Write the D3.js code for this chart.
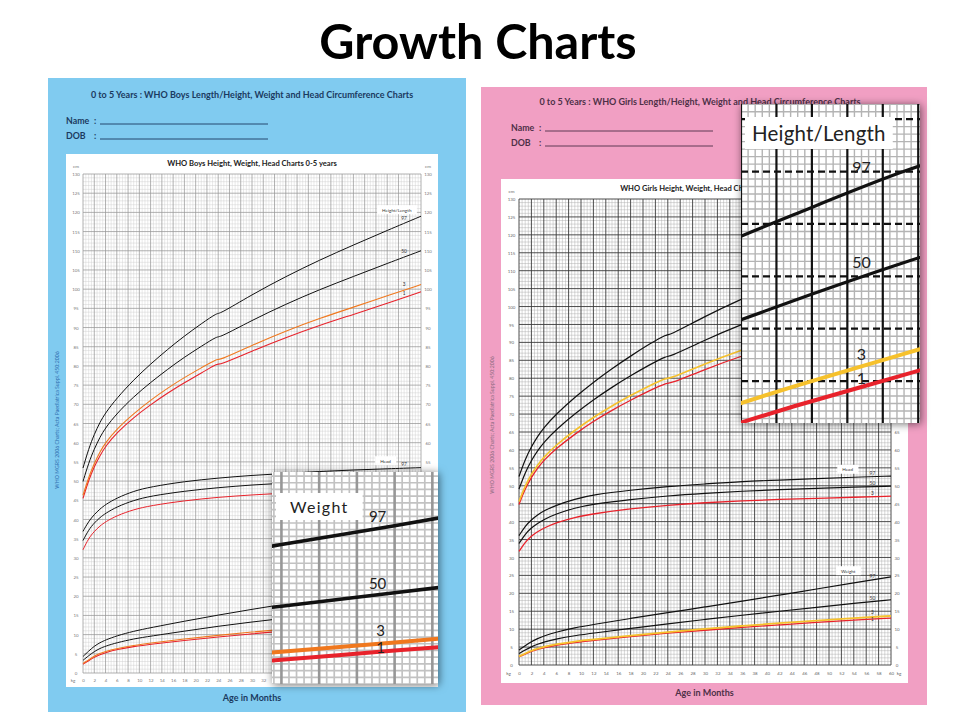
<!DOCTYPE html>
<html>
<head>
<meta charset="utf-8">
<title>Growth Charts</title>
<script src="https://cdn.jsdelivr.net/npm/d3@7"></script>
<style>
  body { margin: 0; background: #fff; }
  svg { display: block; font-family: Lato, 'Open Sans', sans-serif; }
</style>
</head>
<body>
<svg id="chart" width="960" height="720"></svg>
<script>
// ages in months; 24 is listed twice for length (lying) then height (standing)
const heightAges = [0, 1, 2, 3, 4, 6, 9, 12, 15, 18, 21, 24, 24, 30, 36, 42, 48, 54, 60];
const ages = [0, 1, 2, 3, 4, 6, 9, 12, 18, 24, 30, 36, 42, 48, 54, 60];

// tick labels
const monthTicks = [0, 2, 4, 6, 8, 10, 12, 14, 16, 18, 20, 22, 24, 26, 28, 30, 32, 34, 36, 38, 40, 42, 44, 46, 48, 50, 52, 54, 56, 58, 60];
const cmTicks = [0, 5, 10, 15, 20, 25, 30, 35, 40, 45, 50, 55, 60, 65, 70, 75, 80, 85, 90, 95, 100, 105, 110, 115, 120, 125, 130];
const percentiles = ['97', '50', '3', '1'];

// boys (cm / kg)
const boysHeight97 = [53.4, 58.4, 62.2, 65.3, 67.8, 71.6, 76.4, 80.5, 84.3, 87.8, 91.0, 94.0, 93.3, 98.6, 103.3, 107.6, 111.5, 115.3, 119.0];
const boysHeight50 = [49.9, 54.7, 58.4, 61.4, 63.9, 67.6, 72.0, 75.7, 79.1, 82.3, 85.1, 87.9, 87.2, 91.9, 96.1, 99.9, 103.3, 106.7, 110.0];
const boysHeight3 = [46.3, 51.0, 54.6, 57.6, 60.0, 63.6, 67.6, 71.1, 74.2, 77.0, 79.5, 82.0, 81.3, 85.4, 89.1, 92.4, 95.3, 98.3, 101.2];
const boysHeight1 = [45.5, 50.2, 53.8, 56.6, 59.1, 62.6, 66.6, 69.9, 72.9, 75.7, 78.1, 80.8, 80.1, 83.9, 87.4, 90.6, 93.4, 96.3, 99.3];
const boysHead97 = [36.9, 39.5, 41.3, 42.7, 43.9, 45.6, 47.4, 48.5, 49.9, 50.8, 51.5, 52.0, 52.5, 52.9, 53.2, 53.5];
const boysHead50 = [34.5, 37.3, 39.1, 40.5, 41.6, 43.3, 45.0, 46.1, 47.4, 48.3, 49.0, 49.5, 49.9, 50.2, 50.5, 50.7];
const boysHead3 = [32.1, 35.1, 36.9, 38.3, 39.4, 41.0, 42.6, 43.6, 44.9, 45.8, 46.4, 46.9, 47.3, 47.6, 47.9, 48.2];
const boysWeight97 = [4.3, 5.7, 7.0, 7.9, 8.6, 9.7, 10.9, 11.8, 13.5, 15.1, 16.6, 18.0, 19.4, 20.9, 22.3, 23.8];
const boysWeight50 = [3.3, 4.5, 5.6, 6.4, 7.0, 7.9, 8.9, 9.6, 10.9, 12.2, 13.3, 14.3, 15.3, 16.3, 17.3, 18.3];
const boysWeight3 = [2.5, 3.4, 4.4, 5.1, 5.6, 6.4, 7.2, 7.8, 8.9, 9.8, 10.7, 11.4, 12.2, 12.9, 13.6, 14.3];
const boysWeight1 = [2.3, 3.2, 4.1, 4.8, 5.3, 6.1, 6.9, 7.5, 8.5, 9.4, 10.2, 11.0, 11.7, 12.3, 13.0, 13.6];

// girls (cm / kg)
const girlsHeight97 = [52.6, 57.4, 60.9, 63.8, 66.2, 70.0, 74.7, 78.9, 82.7, 86.2, 89.5, 92.5, 91.7, 97.3, 102.2, 106.7, 110.9, 114.9, 118.3];
const girlsHeight50 = [49.1, 53.7, 57.1, 59.8, 62.1, 65.7, 70.1, 74.0, 77.5, 80.7, 83.7, 86.4, 85.7, 90.7, 95.1, 99.0, 102.7, 106.2, 109.4];
const girlsHeight3 = [45.6, 50.0, 53.3, 55.8, 58.0, 61.4, 65.5, 69.1, 72.3, 75.2, 77.9, 80.3, 79.6, 84.1, 88.0, 91.3, 94.5, 97.5, 100.5];
const girlsHeight1 = [44.8, 49.2, 52.4, 54.9, 57.1, 60.4, 64.4, 68.0, 71.1, 73.9, 76.5, 78.9, 78.2, 82.5, 86.3, 89.5, 92.6, 95.5, 98.4];
const girlsHead97 = [36.1, 38.8, 40.5, 41.9, 43.0, 44.6, 46.3, 47.5, 48.8, 49.8, 50.5, 51.2, 51.6, 52.0, 52.4, 52.7];
const girlsHead50 = [33.9, 36.5, 38.3, 39.5, 40.6, 42.2, 43.8, 44.9, 46.2, 47.2, 47.9, 48.5, 48.9, 49.3, 49.6, 49.9];
const girlsHead3 = [31.7, 34.3, 36.0, 37.2, 38.2, 39.7, 41.2, 42.2, 43.6, 44.6, 45.3, 45.8, 46.2, 46.5, 46.8, 47.1];
const girlsWeight97 = [4.2, 5.4, 6.5, 7.4, 8.1, 9.2, 10.4, 11.3, 13.0, 14.6, 16.2, 17.8, 19.5, 21.2, 22.9, 24.6];
const girlsWeight50 = [3.2, 4.2, 5.1, 5.8, 6.4, 7.3, 8.2, 8.9, 10.2, 11.5, 12.7, 13.9, 15.0, 16.1, 17.2, 18.2];
const girlsWeight3 = [2.4, 3.2, 4.0, 4.6, 5.1, 5.8, 6.6, 7.1, 8.2, 9.2, 10.1, 10.9, 11.7, 12.4, 13.1, 13.7];
const girlsWeight1 = [2.3, 3.0, 3.8, 4.4, 4.8, 5.5, 6.3, 6.9, 7.9, 8.9, 9.7, 10.5, 11.2, 11.9, 12.5, 13.1];

const BLACK = '#111';
const RED = '#e8222b';
const ORANGE = '#f0781e';
const YELLOW = '#f6c12c';

const svg = d3.select('#chart');
const defs = svg.append('defs');
defs.append('filter').
  attr('id', 'shadow').
  attr('x', '-20%').attr('y', '-20%').
  attr('width', '140%').attr('height', '140%').
  append('feDropShadow').
  attr('dx', 1).attr('dy', 1).
  attr('stdDeviation', 4).
  attr('flood-color', '#000').
  attr('flood-opacity', 0.55);

svg.append('text').
  text('Growth Charts').
  attr('x', 478).
  attr('y', 59).
  attr('text-anchor', 'middle').
  attr('font-size', 48.5).
  attr('font-weight', 'bold').
  attr('fill', '#000');

function valueAt(xs, ys, m) {
  const i = Math.min(d3.bisectRight(xs, m), xs.length - 1);
  const t = (m - xs[i - 1]) / (xs[i] - xs[i - 1]);
  return ys[i - 1] + t * (ys[i] - ys[i - 1]);
}

function gridValues(domain, base, step, every) {
  const out = [];
  const lo = Math.min(domain[0], domain[1]);
  const hi = Math.max(domain[0], domain[1]);
  for (let i = Math.ceil((lo - base) / step - 1e-9); base + i * step <= hi + 1e-9; i++) {
    out.push({ v: base + i * step, major: ((i % every) + every) % every === 0 });
  }
  return out;
}

function drawPanel(p) {
  const g = svg.append('g');
  g.append('rect').
    attr('x', p.x).attr('y', p.y).
    attr('width', p.w).attr('height', p.h).
    attr('fill', p.fill);

  g.append('text').
    text(p.header).
    attr('x', p.headerX).attr('y', p.headerY).
    attr('text-anchor', 'middle').
    attr('font-size', 9).
    attr('font-weight', 'bold').
    attr('fill', p.ink);

  [['Name', p.nameY], ['DOB', p.nameY + 15]].forEach(([label, ly]) => {
    g.append('text').text(label).
      attr('x', p.nameX).attr('y', ly).
      attr('font-size', 8.8).attr('font-weight', 'bold').attr('fill', p.ink);
    g.append('text').text(':').
      attr('x', p.nameX + 28).attr('y', ly).
      attr('font-size', 8.8).attr('font-weight', 'bold').attr('fill', p.ink);
    g.append('line').
      attr('x1', p.nameX + 34).attr('x2', p.nameX + 202).
      attr('y1', ly).attr('y2', ly).
      attr('stroke', p.ink).attr('stroke-width', 0.9);
  });

  g.append('rect').
    attr('x', p.boxX).attr('y', p.boxY).
    attr('width', p.boxW).attr('height', p.boxH).
    attr('fill', '#fff');

  g.append('text').
    text(p.title).
    attr('x', p.boxX + p.boxW / 2).attr('y', p.titleY).
    attr('text-anchor', 'middle').
    attr('font-size', 7.6).
    attr('font-weight', 'bold').
    attr('fill', '#222');

  g.append('text').
    text('Age in Months').
    attr('x', p.boxX + p.boxW / 2).attr('y', p.ageY).
    attr('text-anchor', 'middle').
    attr('font-size', 9).
    attr('font-weight', 'bold').
    attr('fill', p.ink);

  g.append('text').
    text('WHO MGRS 2006 Charts; Acta Paediatrica Suppl. 450:2006').
    attr('transform', `translate(${p.sideX}, ${p.sideY}) rotate(-90)`).
    attr('text-anchor', 'middle').
    attr('font-size', 5.2).
    attr('fill', p.sideInk);
}

function drawChart(c) {
  const x = d3.scaleLinear().domain([0, 60]).range([c.left, c.right]);
  const y = d3.scaleLinear().domain([0, 130]).range([c.bottom, c.top]);
  const g = svg.append('g');

  // grid: minor first, majors on top
  const gx = gridValues(x.domain(), 0, 0.5, 4);
  const gy = gridValues(y.domain(), 0, 1, 5);
  const grid = g.append('g');
  [false, true].forEach(major => {
    grid.append('g').selectAll('line').
      data(gx.filter(d => d.major === major)).
      enter().append('line').
      attr('x1', d => x(d.v)).attr('x2', d => x(d.v)).
      attr('y1', y(0)).attr('y2', y(130)).
      attr('stroke', major ? c.major : c.minor).
      attr('stroke-width', major ? c.majorW : 0.45);
    grid.append('g').selectAll('line').
      data(gy.filter(d => d.major === major)).
      enter().append('line').
      attr('x1', x(0)).attr('x2', x(60)).
      attr('y1', d => y(d.v)).attr('y2', d => y(d.v)).
      attr('stroke', major ? c.major : c.minor).
      attr('stroke-width', major ? c.majorW : 0.45);
  });

  // axes (labels only)
  const styleAxis = a => {
    a.select('.domain').remove();
    a.attr('font-size', 4.4).attr('font-family', null).attr('color', c.tickInk);
    a.selectAll('text').attr('x', 0).attr('y', 0).attr('dy', '0.35em').attr('text-anchor', 'middle');
  };
  g.append('g').
    attr('transform', `translate(${c.leftLabelX}, 0)`).
    call(d3.axisLeft(y).tickValues(cmTicks).tickSize(0)).
    call(styleAxis);
  g.append('g').
    attr('transform', `translate(${c.rightLabelX}, 0)`).
    call(d3.axisRight(y).tickValues(cmTicks).tickSize(0)).
    call(styleAxis);
  g.append('g').
    attr('transform', `translate(0, ${c.bottomLabelY})`).
    call(d3.axisBottom(x).tickValues(monthTicks).tickSize(0)).
    call(styleAxis);

  [['cm', c.leftLabelX, y(130) - 8], ['cm', c.rightLabelX, y(130) - 8],
   ['kg', c.leftLabelX - 3, c.bottomLabelY], ['kg', c.rightLabelX + 2, c.bottomLabelY]].
    forEach(([t, tx, ty]) => {
      g.append('text').text(t).
        attr('x', tx).attr('y', ty).attr('dy', '0.35em').
        attr('text-anchor', 'middle').
        attr('font-size', 4.6).attr('fill', c.tickInk);
    });

  // percentile curves
  const line = d3.line().
    x(d => x(d[0])).
    y(d => y(d[1])).
    curve(d3.curveBasis);
  g.append('g').selectAll('path').
    data(c.series).
    enter().append('path').
    attr('d', s => line(d3.zip(s.ages, s.values))).
    attr('fill', 'none').
    attr('stroke', s => s.color).
    attr('stroke-width', s => s.width).
    attr('stroke-linejoin', 'round');

  g.append('g').selectAll('text').
    data(c.series).
    enter().append('text').
    text(s => s.label).
    attr('x', x(57)).
    attr('y', s => y(valueAt(s.ages, s.values, 57)) + s.dy).
    attr('text-anchor', 'middle').
    attr('font-size', 4.8).
    attr('fill', '#333');

  // group name boxes
  c.boxes.forEach(b => {
    const bg = g.append('g');
    const t = bg.append('text').text(b.text).
      attr('x', x(b.m)).attr('y', y(b.v)).attr('dy', '0.35em').
      attr('text-anchor', 'middle').
      attr('font-size', 4.6).attr('fill', '#333');
    const bb = t.node().getBBox();
    bg.insert('rect', 'text').
      attr('x', bb.x - 5).attr('y', bb.y - 1.5).
      attr('width', bb.width + 10).attr('height', bb.height + 3).
      attr('fill', '#fff');
  });
}

function drawInset(c) {
  const ix = d3.scaleLinear().domain(c.months).range([c.x, c.x + c.w]);
  const iy = d3.scaleLinear().domain(c.values).range([c.y + c.h, c.y]);
  const g = svg.append('g');

  g.append('rect').
    attr('x', c.x).attr('y', c.y).
    attr('width', c.w).attr('height', c.h).
    attr('fill', '#fff').
    attr('filter', 'url(#shadow)');

  defs.append('clipPath').attr('id', c.id + '-clip').
    append('rect').
    attr('x', c.x).attr('y', c.y).
    attr('width', c.w).attr('height', c.h);
  const body = g.append('g').attr('clip-path', `url(#${c.id}-clip)`);

  const gx = gridValues(c.months, c.gridX[0], c.gridX[1], c.gridX[2]);
  const gy = gridValues(c.values, c.gridY[0], c.gridY[1], c.gridY[2]);
  [false, true].forEach(major => {
    body.append('g').selectAll('line').
      data(gy.filter(d => d.major === major)).
      enter().append('line').
      attr('x1', c.x).attr('x2', c.x + c.w).
      attr('y1', d => iy(d.v)).attr('y2', d => iy(d.v)).
      attr('stroke', major ? c.majorYColor : c.minorColor).
      attr('stroke-width', major ? c.majorYWidth : c.minorWidth).
      attr('stroke-dasharray', major ? c.majorYDash : null);
    body.append('g').selectAll('line').
      data(gx.filter(d => d.major === major)).
      enter().append('line').
      attr('x1', d => ix(d.v)).attr('x2', d => ix(d.v)).
      attr('y1', c.y).attr('y2', c.y + c.h).
      attr('stroke', major ? c.majorXColor : c.minorColor).
      attr('stroke-width', major ? c.majorXWidth : c.minorWidth);
  });

  const line = d3.line().
    x(d => ix(d[0])).
    y(d => iy(d[1])).
    curve(d3.curveCatmullRom.alpha(0.5));
  body.append('g').selectAll('path').
    data(c.series).
    enter().append('path').
    attr('d', s => line(d3.zip(s.ages, s.values))).
    attr('fill', 'none').
    attr('stroke', s => s.color).
    attr('stroke-width', s => s.width).
    attr('stroke-linecap', 'round');

  // name box
  const nb = body.append('g');
  const nt = nb.append('text').text(c.name).
    attr('x', c.nameX).attr('y', c.nameY).
    attr('font-size', c.nameSize).
    attr('letter-spacing', c.nameSpacing).
    attr('fill', '#222');
  const bb = nt.node().getBBox();
  nb.insert('rect', 'text').
    attr('x', bb.x - c.namePad).attr('y', bb.y - 4).
    attr('width', bb.width + 2 * c.namePad).attr('height', bb.height + 8).
    attr('fill', '#fff');

  body.append('g').selectAll('text').
    data(c.series).
    enter().append('text').
    text(s => s.label).
    attr('x', s => ix(c.labelMonth) + (s.dx || 0)).
    attr('y', s => iy(valueAt(s.ages, s.values, c.labelMonth)) + s.dy).
    attr('text-anchor', 'middle').
    attr('font-size', c.labelSize).
    attr('fill', '#222');
}

// ---------- boys ----------
drawPanel({
  x: 48, y: 78, w: 418, h: 634, fill: '#80cbf0',
  ink: '#1b3a60', sideInk: '#2f6fb0',
  header: '0 to 5 Years : WHO Boys Length/Height, Weight and Head Circumference Charts',
  headerX: 252, headerY: 97.5,
  nameX: 66, nameY: 124,
  boxX: 66, boxY: 154, boxW: 372, boxH: 533,
  title: 'WHO Boys Height, Weight, Head Charts 0-5 years', titleY: 165.5,
  ageY: 701,
  sideX: 59, sideY: 420
});

drawChart({
  left: 83, right: 421, top: 174, bottom: 673,
  minor: '#cdcdcd', major: '#979797', majorW: 0.75, tickInk: '#777',
  leftLabelX: 76, rightLabelX: 428, bottomLabelY: 680,
  series: [
    { ages: heightAges, values: boysHeight1, color: RED, width: 1.1, label: percentiles[3], dy: -3 },
    { ages: heightAges, values: boysHeight3, color: ORANGE, width: 1.1, label: percentiles[2], dy: -4 },
    { ages: heightAges, values: boysHeight50, color: BLACK, width: 1, label: percentiles[1], dy: -4 },
    { ages: heightAges, values: boysHeight97, color: BLACK, width: 1, label: percentiles[0], dy: -3 },
    { ages: ages, values: boysHead3, color: RED, width: 1, label: percentiles[2], dy: -2 },
    { ages: ages, values: boysHead50, color: BLACK, width: 1, label: percentiles[1], dy: -2 },
    { ages: ages, values: boysHead97, color: BLACK, width: 1, label: percentiles[0], dy: -2 },
    { ages: ages, values: boysWeight1, color: RED, width: 1.1, label: percentiles[3], dy: 2 },
    { ages: ages, values: boysWeight3, color: ORANGE, width: 1.1, label: percentiles[2], dy: -2 },
    { ages: ages, values: boysWeight50, color: BLACK, width: 1, label: percentiles[1], dy: -2 },
    { ages: ages, values: boysWeight97, color: BLACK, width: 1, label: percentiles[0], dy: -2 }
  ],
  boxes: [
    { text: 'Height/Length', m: 55.7, v: 120.6 },
    { text: 'Head', m: 53.7, v: 55.2 }
  ]
});

drawInset({
  id: 'boys-inset',
  x: 272, y: 472, w: 166, h: 212,
  months: [47.5, 56.3], values: [10.5, 26.3],
  gridX: [48, 0.4, 5], gridY: [10, 0.5, 5],
  minorColor: '#c2c2c2', minorWidth: 1.7,
  majorXColor: '#979797', majorXWidth: 2.6,
  majorYColor: '#c2c2c2', majorYWidth: 1.7, majorYDash: null,
  series: [
    { ages: ages, values: boysWeight97, color: BLACK, width: 3.6, label: percentiles[0], dy: -6 },
    { ages: ages, values: boysWeight50, color: BLACK, width: 3.6, label: percentiles[1], dy: -6 },
    { ages: ages, values: boysWeight3, color: ORANGE, width: 4, label: percentiles[2], dy: -8, dx: 3 },
    { ages: ages, values: boysWeight1, color: RED, width: 4, label: percentiles[3], dy: 1, dx: 3 }
  ],
  labelMonth: 53.1, labelSize: 15,
  name: 'Weight', nameX: 290, nameY: 513, nameSize: 16, nameSpacing: 1.3, namePad: 14
});

// ---------- girls ----------
drawPanel({
  x: 481, y: 87, w: 446, h: 618, fill: '#f19fc3',
  ink: '#4e3047', sideInk: '#8c6a80',
  header: '0 to 5 Years : WHO Girls Length/Height, Weight and Head Circumference Charts',
  headerX: 700, headerY: 105,
  nameX: 511, nameY: 131,
  boxX: 501, boxY: 179, boxW: 407, boxH: 504,
  title: 'WHO Girls Height, Weight, Head Charts 0-5 years', titleY: 190.5,
  ageY: 695.5,
  sideX: 494, sideY: 425
});

drawChart({
  left: 519, right: 891, top: 199, bottom: 665,
  minor: '#ababab', major: '#3a3a3a', majorW: 0.9, tickInk: '#666',
  leftLabelX: 511.5, rightLabelX: 897, bottomLabelY: 673.5,
  series: [
    { ages: heightAges, values: girlsHeight1, color: RED, width: 1.3, label: percentiles[3], dy: -2 },
    { ages: heightAges, values: girlsHeight3, color: YELLOW, width: 1.6, label: percentiles[2], dy: -2 },
    { ages: heightAges, values: girlsHeight50, color: BLACK, width: 1.2, label: percentiles[1], dy: -2 },
    { ages: heightAges, values: girlsHeight97, color: BLACK, width: 1.2, label: percentiles[0], dy: -2 },
    { ages: ages, values: girlsHead3, color: RED, width: 1.3, label: percentiles[2], dy: -1.5 },
    { ages: ages, values: girlsHead50, color: BLACK, width: 1.2, label: percentiles[1], dy: -2 },
    { ages: ages, values: girlsHead97, color: BLACK, width: 1.2, label: percentiles[0], dy: -2 },
    { ages: ages, values: girlsWeight1, color: RED, width: 1.3, label: percentiles[3], dy: 1.5 },
    { ages: ages, values: girlsWeight3, color: YELLOW, width: 1.8, label: percentiles[2], dy: -3 },
    { ages: ages, values: girlsWeight50, color: BLACK, width: 1.2, label: percentiles[1], dy: -2 },
    { ages: ages, values: girlsWeight97, color: BLACK, width: 1.2, label: percentiles[0], dy: -2 }
  ],
  boxes: [
    { text: 'Head', m: 53, v: 54.5 },
    { text: 'Weight', m: 53.1, v: 26.2 }
  ]
});

drawInset({
  id: 'girls-inset',
  x: 741, y: 104, w: 179, h: 319,
  months: [45, 55.1], values: [91.0, 121.45],
  gridX: [47, 0.4, 5], gridY: [90, 5 / 7, 7],
  minorColor: '#b4b4b4', minorWidth: 1.4,
  majorXColor: '#111', majorXWidth: 2.2,
  majorYColor: '#111', majorYWidth: 2.2, majorYDash: '7,4',
  series: [
    { ages: heightAges, values: girlsHeight97, color: BLACK, width: 3.2, label: percentiles[0], dy: -15 },
    { ages: heightAges, values: girlsHeight50, color: BLACK, width: 3.2, label: percentiles[1], dy: -9 },
    { ages: heightAges, values: girlsHeight3, color: YELLOW, width: 4, label: percentiles[2], dy: -6 },
    { ages: heightAges, values: girlsHeight1, color: RED, width: 4, label: percentiles[3], dy: -3 }
  ],
  labelMonth: 51.8, labelSize: 16,
  name: 'Height/Length', nameX: 752, nameY: 141, nameSize: 20.5, nameSpacing: 0.2, namePad: 7
});
</script>
</body>
</html>
